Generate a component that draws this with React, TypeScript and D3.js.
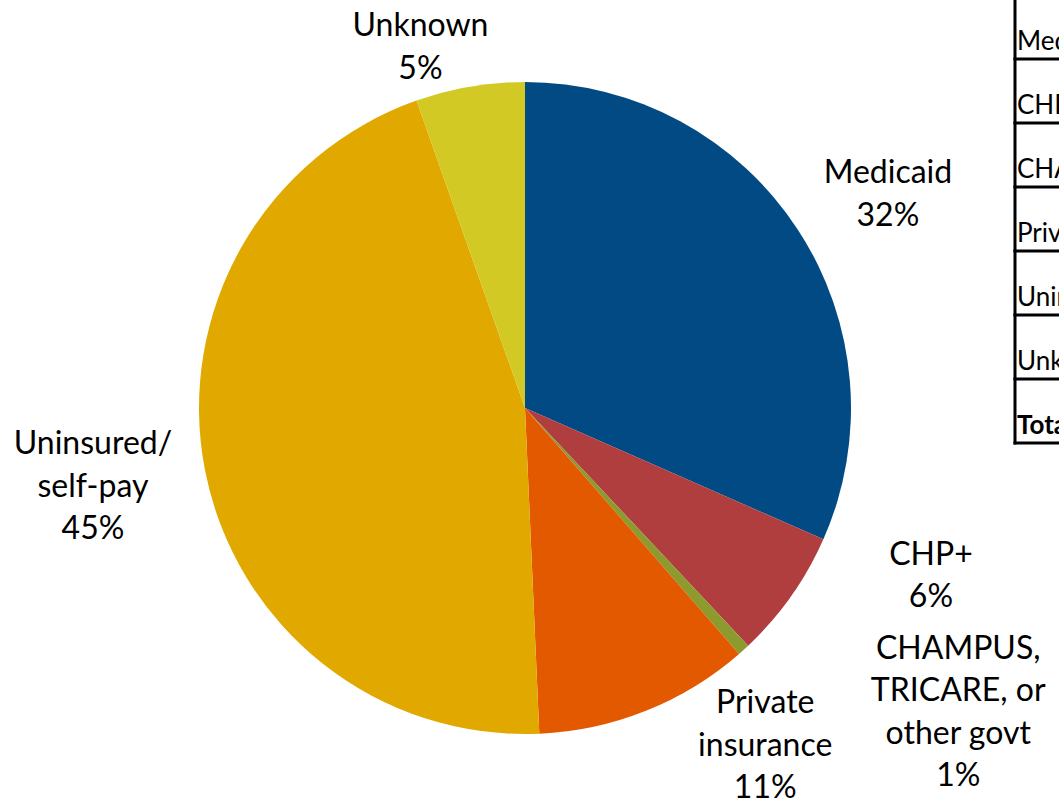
import React, { useEffect, useRef } from 'react';
import * as d3 from 'd3';

// payer mix (percent of total)
const categories = ['Medicaid', 'CHP+', 'CHAMPUS, TRICARE, or other govt', 'Private insurance', 'Uninsured/self-pay', 'Unknown'];
const values = [31.6, 6.4, 0.6, 10.7, 45.3, 5.4];
const shownPct = ['32%', '6%', '1%', '11%', '45%', '5%'];
const labelLines = [
  ['Medicaid'],
  ['CHP+'],
  ['CHAMPUS,', 'TRICARE, or', 'other govt'],
  ['Private', 'insurance'],
  ['Uninsured/', 'self-pay'],
  ['Unknown'],
];
const colors = ['#024a83', '#b03e3f', '#8d9a2e', '#e35900', '#e1a900', '#d3c925'];

// the table at right is cut off by the frame; only row heads show
const tableRows = ['Medicaid', 'CHP+', 'CHAMPUS, TRICARE, or other govt', 'Private insurance', 'Uninsured/self-pay', 'Unknown', 'Total'];

// hand nudges so labels sit where the original placed them
const labelNudge: Record<string, [number, number]> = {
  'Medicaid': [8, 28],
  'CHP+': [60, -67],
  'CHAMPUS, TRICARE, or other govt': [149, 0],
  'Private insurance': [83, -46],
  'Uninsured/self-pay': [-16, 8],
  'Unknown': [-33, 67],
};

const W = 1059;
const H = 802;
const FONT = 'Lato, "DejaVu Sans", sans-serif';

const App: React.FC = () => {
  const ref = useRef<SVGSVGElement>(null);

  useEffect(() => {
    if (!ref.current) return;
    const svg = d3.select(ref.current);
    svg.selectAll('*').remove();

    const cx = 525;
    const cy = 408;
    const radius = 326;

    const data = categories.map((c, i) => ({ name: c, value: values[i], color: colors[i], pct: shownPct[i], lines: labelLines[i] }));
    type D = typeof data[number];

    const pie = d3.pie<D>().value(d => d.value).sort(null);
    const arc = d3.arc<d3.PieArcDatum<D>>().innerRadius(0).outerRadius(radius);
    const labelArc = d3.arc<d3.PieArcDatum<D>>().innerRadius(radius * 1.3).outerRadius(radius * 1.3);

    const g = svg.append('g').attr('transform', `translate(${cx},${cy})`);
    const arcs = pie(data);

    g.selectAll('path')
      .data(arcs)
      .enter().append('path')
      .attr('d', arc)
      .attr('fill', d => d.data.color);

    const lineH = 42.5;
    arcs.forEach(a => {
      const [x, y] = labelArc.centroid(a);
      const [dx, dy] = labelNudge[a.data.name];
      const lines = [...a.data.lines, a.data.pct];
      const t = g.append('text')
        .attr('text-anchor', 'middle')
        .attr('font-family', FONT)
        .attr('font-size', 32)
        .attr('fill', '#000');
      lines.forEach((ln, i) => {
        t.append('tspan')
          .attr('x', x + dx)
          .attr('y', y + dy + (i - (lines.length - 1) / 2) * lineH)
          .text(ln);
      });
    });

    // partial table on the right edge
    const tx = 1015;
    const rowY = d3.scalePoint<string>().domain(tableRows).range([59, 443]);
    const tbl = svg.append('g');
    tbl.append('line')
      .attr('x1', tx).attr('x2', tx)
      .attr('y1', 0).attr('y2', 444.5)
      .attr('stroke', '#000').attr('stroke-width', 3);
    tableRows.forEach((r, i) => {
      const y = rowY(r) as number;
      tbl.append('line')
        .attr('x1', tx - 1.5).attr('x2', W)
        .attr('y1', y).attr('y2', y)
        .attr('stroke', '#000').attr('stroke-width', 3);
      tbl.append('text')
        .attr('x', tx + 2)
        .attr('y', y - 9)
        .attr('font-family', FONT)
        .attr('font-size', 26)
        .attr('font-weight', i === tableRows.length - 1 ? 'bold' : 'normal')
        .text(r);
    });
  }, []);

  return (
    <div style={{ position: 'absolute', left: 0, top: 0, width: W, height: H, overflow: 'hidden', background: '#fff' }}>
      <svg ref={ref} width={W} height={H} viewBox={`0 0 ${W} ${H}`} />
    </div>
  );
};

export default App;
